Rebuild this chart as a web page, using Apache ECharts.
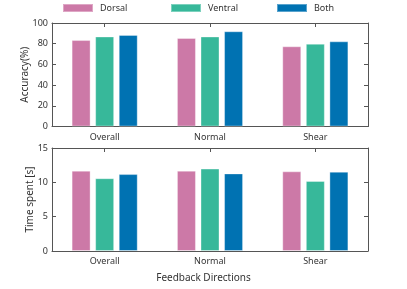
<!DOCTYPE html>
<html><head><meta charset="utf-8">
<script src="https://cdn.jsdelivr.net/npm/echarts@6/dist/echarts.min.js"></script>
<style>html,body{margin:0;padding:0;background:#fff}#c{width:407px;height:289px}</style>
</head><body><div id="c"></div>
<script>
const categories = ['Overall', 'Normal', 'Shear'];
const seriesNames = ['Dorsal', 'Ventral', 'Both'];
const accuracyDorsal = [83.5, 85.5, 77.5];
const accuracyVentral = [87, 87, 80];
const accuracyBoth = [88.5, 92, 82.3];
const timeDorsal = [11.7, 11.7, 11.6];
const timeVentral = [10.6, 12.0, 10.2];
const timeBoth = [11.2, 11.3, 11.55];
const accuracyTicks = [0, 20, 40, 60, 80, 100];
const timeTicks = [0, 5, 10, 15];
const colors = ['#CC79A7', '#37B89A', '#0072B2'];

const font = 'Noto Sans';
const axisCol = '#555';
const txt = '#333';
const chart = echarts.init(document.getElementById('c'), null, {renderer: 'canvas'});

function xAx(gi, pos, labels) {
  return {
    type: 'category', gridIndex: gi, data: categories, position: pos,
    axisLine: {show: true, onZero: false, lineStyle: {color: axisCol, width: 1}},
    axisTick: {show: pos === 'top', inside: true, alignWithLabel: true, length: 4, lineStyle: {color: axisCol}},
    axisLabel: {show: labels, fontFamily: font, fontSize: 9, color: txt, margin: 6},
    splitLine: {show: false}
  };
}
function yAx(gi, pos, ticks, name, nameGap) {
  return {
    type: 'value', gridIndex: gi, position: pos,
    min: ticks[0], max: ticks[ticks.length - 1], interval: ticks[1] - ticks[0],
    name: name, nameLocation: 'middle', nameGap: nameGap, nameRotate: 90,
    nameMoveOverlap: false,
    nameTextStyle: {fontFamily: font, fontSize: 10, color: txt},
    axisLine: {show: true, onZero: false, lineStyle: {color: axisCol, width: 1}},
    axisTick: {show: true, inside: true, length: 4, lineStyle: {color: axisCol}},
    axisLabel: {show: pos === 'left', fontFamily: font, fontSize: 9, color: txt, margin: 4},
    splitLine: {show: false}
  };
}
function bars(name, data, xi, yi, ci) {
  return {
    name: name, type: 'bar', data: data, xAxisIndex: xi, yAxisIndex: yi,
    barWidth: 19, barGap: '24%',
    itemStyle: {color: colors[ci], borderColor: 'rgba(255,255,255,0.35)', borderWidth: 1},
    silent: true
  };
}
const legends = seriesNames.map((n, i) => ({
  data: [n], left: [62, 170, 276][i], top: 3, padding: 0, itemWidth: 30, itemHeight: 8, itemGap: 0,
  icon: 'rect', textStyle: {fontFamily: font, fontSize: 9, color: txt, padding: [0, 0, 0, 2]},
  selectedMode: false
}));

chart.setOption({
  animation: false,
  color: colors,
  legend: legends,
  grid: [
    {left: 52, right: 39, top: 23, height: 103.5},
    {left: 52, right: 39, top: 148, height: 103}
  ],
  xAxis: [xAx(0, 'bottom', true), xAx(0, 'top', false), xAx(1, 'bottom', true), xAx(1, 'top', false)],
  yAxis: [
    yAx(0, 'left', accuracyTicks, 'Accuracy(%)', 22), yAx(0, 'right', accuracyTicks, '', 0),
    yAx(1, 'left', timeTicks, 'Time spent [s]', 17), yAx(1, 'right', timeTicks, '', 0)
  ],
  graphic: [{type: 'text', left: 'center', top: 273, style: {text: 'Feedback Directions', font: '10px "Noto Sans"', fill: txt}}],
  series: [
    bars('Dorsal', accuracyDorsal, 0, 0, 0), bars('Ventral', accuracyVentral, 0, 0, 1), bars('Both', accuracyBoth, 0, 0, 2),
    bars('Dorsal', timeDorsal, 2, 2, 0), bars('Ventral', timeVentral, 2, 2, 1), bars('Both', timeBoth, 2, 2, 2)
  ]
});
</script></body></html>
